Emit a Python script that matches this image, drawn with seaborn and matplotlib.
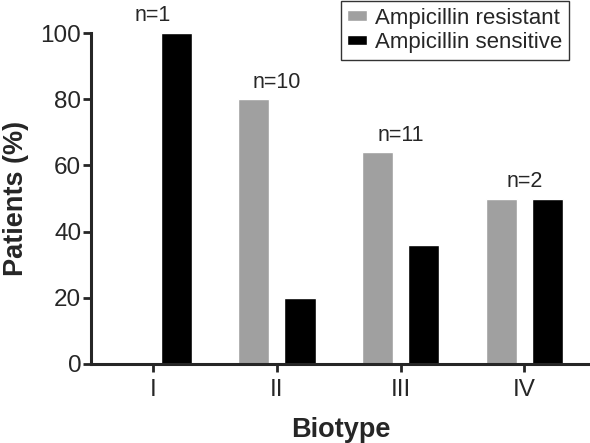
import matplotlib
matplotlib.use("Agg")
import matplotlib.pyplot as plt
import pandas as pd
import seaborn as sns

# Data
biotypes = ["I", "II", "III", "IV"]
resistant = [0, 80, 64, 50]
sensitive = [100, 20, 36, 50]
n_labels = ["n=1", "n=10", "n=11", "n=2"]
series_names = ["Ampicillin resistant", "Ampicillin sensitive"]
colors = ["#a0a0a0", "#000000"]

df = pd.DataFrame({
    "Biotype": biotypes * 2,
    "Patients": resistant + sensitive,
    "Group": [series_names[0]] * 4 + [series_names[1]] * 4,
})

sns.set_style("ticks")
plt.rcParams["font.family"] = ["Liberation Sans", "DejaVu Sans"]

fig = plt.figure(figsize=(5.9, 4.43), dpi=100)
ax = fig.add_axes([91 / 590, 1 - 364 / 443, 1 - 91 / 590, (364 - 33) / 443])

sns.barplot(data=df, x="Biotype", y="Patients", hue="Group", palette=colors,
            width=0.75, gap=0.33, saturation=1, ax=ax)

# n= labels above each group
for i, lab in enumerate(n_labels):
    top = max(resistant[i], sensitive[i])
    ax.text(i, top + 3.5, lab, ha="center", va="baseline", fontsize=15.5, clip_on=False)

ax.set_ylim(0, 100)
ax.set_xlim(-0.5, 3.53)
ax.set_yticks([0, 20, 40, 60, 80, 100])
ax.set_ylabel("Patients (%)", fontsize=19.5, fontweight="bold", labelpad=8)
ax.set_xlabel("Biotype", fontsize=19.5, fontweight="bold", labelpad=11)

for s in ["top", "right"]:
    ax.spines[s].set_visible(False)
for s in ["left", "bottom"]:
    ax.spines[s].set_linewidth(2.2)
ax.tick_params(axis="both", length=6, width=2, labelsize=17.5, direction="out")
ax.tick_params(axis="y", pad=1)
ax.tick_params(axis="x", pad=5)

handles, labels = ax.get_legend_handles_labels()
ax.get_legend().remove()
leg = fig.legend(handles, labels, loc="upper right", bbox_to_anchor=(569 / 590, 1 - 1 / 443),
                 fontsize=16, frameon=True, fancybox=False, edgecolor="black",
                 handlelength=0.9, handleheight=0.36, handletextpad=0.35,
                 labelspacing=0.15, borderpad=0.3, borderaxespad=0)
leg.get_frame().set_linewidth(1)

fig.savefig("out.png", dpi=100)
